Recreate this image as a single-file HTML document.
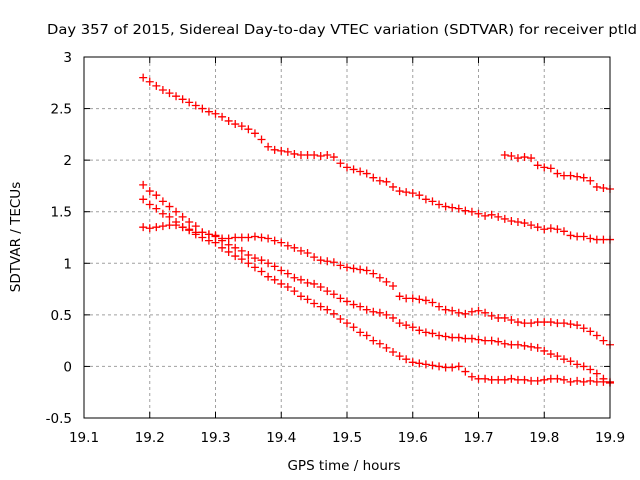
<!DOCTYPE html>
<html><head><meta charset="utf-8"><style>
body{margin:0;background:#fff}
svg{display:block;font-family:"DejaVu Sans","Liberation Sans",sans-serif}
</style></head><body>
<svg id="chart" width="640" height="480" viewBox="0 0 640 480">
<text x="47" y="34" font-size="13" textLength="590" lengthAdjust="spacingAndGlyphs">Day 357 of 2015, Sidereal Day-to-day VTEC variation (SDTVAR) for receiver ptld</text>
<g id="grid"></g>
<g id="ticks"></g>
<g id="marks"></g>
<rect x="84" y="57" width="526" height="361" fill="none" stroke="#000" stroke-width="1"/>
<text x="344" y="470" font-size="13.5" text-anchor="middle">GPS time / hours</text>
<text x="20" y="237" font-size="13.5" text-anchor="middle" transform="rotate(-90 20 237)">SDTVAR / TECUs</text>
</svg>
<script>
const xTicks=[19.1,19.2,19.3,19.4,19.5,19.6,19.7,19.8,19.9];
const yTicks=[-0.5,0,0.5,1,1.5,2,2.5,3];
const xTickLabels=["19.1","19.2","19.3","19.4","19.5","19.6","19.7","19.8","19.9"];
const yTickLabels=["-0.5","0","0.5","1","1.5","2","2.5","3"];
const seriesStart=[19.19,19.74,19.19,19.19,19.19];
const s1=[2.80,2.76,2.72,2.68,2.65,2.62,2.59,2.56,2.53,2.50,2.47,2.45,2.42,2.38,2.35,2.33,2.30,2.26,2.20,2.13,2.10,2.09,2.08,2.06,2.05,2.05,2.05,2.04,2.05,2.03,1.97,1.93,1.91,1.89,1.87,1.83,1.80,1.79,1.74,1.70,1.69,1.68,1.66,1.62,1.60,1.57,1.55,1.54,1.53,1.51,1.50,1.48,1.46,1.47,1.45,1.43,1.41,1.40,1.39,1.37,1.35,1.33,1.34,1.33,1.31,1.27,1.26,1.26,1.24,1.23,1.23,1.23];
const s2=[2.05,2.04,2.02,2.03,2.02,1.95,1.93,1.92,1.87,1.85,1.85,1.84,1.83,1.80,1.74,1.73,1.72];
const s3=[1.35,1.34,1.35,1.36,1.37,1.37,1.35,1.33,1.30,1.30,1.28,1.27,1.24,1.24,1.25,1.25,1.25,1.26,1.25,1.24,1.22,1.20,1.17,1.15,1.12,1.10,1.06,1.03,1.02,1.01,0.98,0.96,0.95,0.94,0.93,0.90,0.86,0.82,0.78,0.68,0.66,0.66,0.65,0.64,0.62,0.58,0.55,0.54,0.52,0.51,0.53,0.54,0.52,0.49,0.47,0.47,0.45,0.43,0.42,0.42,0.43,0.43,0.43,0.42,0.42,0.41,0.40,0.37,0.34,0.30,0.25,0.21];
const s4=[1.76,1.70,1.66,1.60,1.55,1.50,1.45,1.40,1.36,1.30,1.28,1.26,1.22,1.18,1.15,1.12,1.08,1.05,1.03,1.00,0.97,0.93,0.90,0.86,0.84,0.81,0.80,0.77,0.73,0.70,0.66,0.63,0.60,0.58,0.55,0.53,0.52,0.50,0.47,0.42,0.40,0.38,0.35,0.33,0.32,0.30,0.29,0.28,0.28,0.27,0.27,0.26,0.25,0.25,0.24,0.22,0.21,0.21,0.20,0.19,0.18,0.15,0.12,0.10,0.07,0.05,0.02,0.00,-0.03,-0.07,-0.12,-0.16];
const s5=[1.62,1.57,1.53,1.48,1.45,1.40,1.35,1.32,1.28,1.25,1.22,1.20,1.15,1.11,1.07,1.04,1.00,0.96,0.92,0.87,0.84,0.80,0.77,0.73,0.68,0.65,0.61,0.58,0.55,0.51,0.46,0.42,0.38,0.33,0.30,0.25,0.22,0.18,0.14,0.10,0.07,0.04,0.03,0.02,0.01,0.00,-0.01,-0.01,0.00,-0.05,-0.10,-0.12,-0.12,-0.13,-0.13,-0.13,-0.12,-0.13,-0.13,-0.14,-0.14,-0.13,-0.12,-0.12,-0.13,-0.15,-0.14,-0.15,-0.14,-0.15,-0.15,-0.15];
const allSeries=[s1,s2,s3,s4,s5];
const step=0.01;
const X0=84,X1=610,Y0=418,Y1=57;
function xs(v){return X0+(v-19.1)/(19.9-19.1)*(X1-X0);}
function ys(v){return Y0-(v+0.5)/3.5*(Y0-Y1);}
const NS="http://www.w3.org/2000/svg";
const grid=document.getElementById('grid'),ticks=document.getElementById('ticks'),marks=document.getElementById('marks');
function mk(tag,attrs,parent){const e=document.createElementNS(NS,tag);for(const k in attrs)e.setAttribute(k,attrs[k]);parent.appendChild(e);return e;}
xTicks.forEach((t,i)=>{
  const x=xs(t);
  if(i>0&&i<xTicks.length-1){const g=mk('line',{x1:x,x2:x,y1:Y1,y2:Y0,stroke:'#a0a0a0','stroke-dasharray':'3,3'},grid);
  
  }
  mk('line',{x1:x,x2:x,y1:Y0,y2:Y0-6,stroke:'#000'},ticks);
  mk('line',{x1:x,x2:x,y1:Y1,y2:Y1+6,stroke:'#000'},ticks);
  const tx=mk('text',{x:x,y:Y0+24,'font-size':13.5,'text-anchor':'middle'},ticks);
  tx.textContent=xTickLabels[i];
  
  
});
yTicks.forEach((t,i)=>{
  const y=ys(t);
  if(i>0&&i<yTicks.length-1){const g=mk('line',{x1:X0,x2:X1,y1:y,y2:y,stroke:'#a0a0a0','stroke-dasharray':'3,3'},grid);
  
  }
  mk('line',{x1:X0,x2:X0+6,y1:y,y2:y,stroke:'#000'},ticks);
  mk('line',{x1:X1,x2:X1-6,y1:y,y2:y,stroke:'#000'},ticks);
  const tx=mk('text',{x:X0-12,y:y+5,'font-size':13.5,'text-anchor':'end'},ticks);
  tx.textContent=yTickLabels[i];
  
  
});
allSeries.forEach((arr,si)=>{
  arr.forEach((v,i)=>{
    const x=xs(seriesStart[si]+i*step),y=ys(v);
    const p=mk('path',{d:`M${x-4} ${y}H${x+4}M${x} ${y-4}V${y+4}`,stroke:'#ff0000','stroke-width':1.3,fill:'none'},marks);
    
    
  });
});
</script>
</body></html>
